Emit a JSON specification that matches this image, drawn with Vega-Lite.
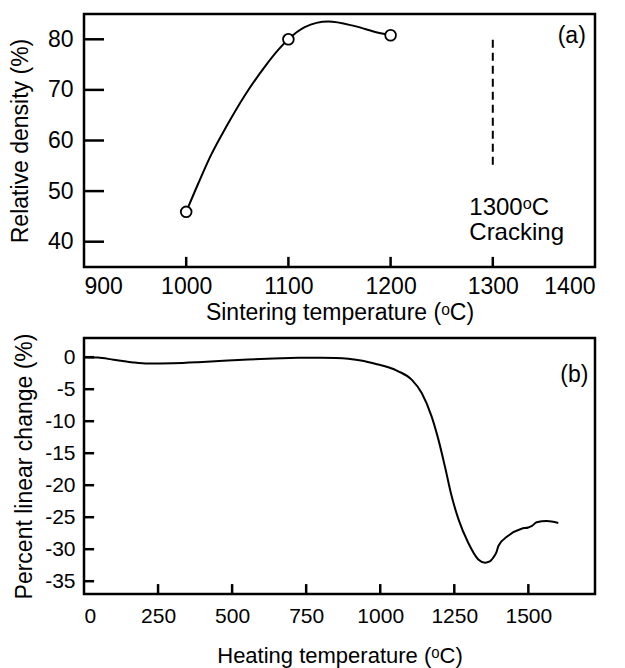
{
  "$schema": "https://vega.github.io/schema/vega-lite/v6.json",
  "padding": {"top": 12, "left": 8, "right": 0, "bottom": 0},
  "background": "white",
  "config": {
    "view": {"stroke": "black", "strokeWidth": 2.5},
    "font": "Liberation Sans",
    "axis": {
      "grid": false,
      "domain": false,
      "ticks": false,
      "labelOverlap": false,
      "labelExpr": "'' + datum.value",
      "labelFont": "Liberation Sans",
      "labelColor": "black",
      "titleFont": "Liberation Sans",
      "titleFontSize": 23,
      "titleFontWeight": "normal",
      "titleColor": "black"
    }
  },
  "spacing": 5,
  "vconcat": [
    {
      "width": 511,
      "height": 253,
      "layer": [
        {
          "data": {"values": [
            {"t": 1000, "d": 45.9}, {"t": 1012, "d": 51.6}, {"t": 1024, "d": 57.0},
            {"t": 1040, "d": 63.0}, {"t": 1057, "d": 68.8}, {"t": 1077, "d": 74.6},
            {"t": 1090, "d": 77.9}, {"t": 1100, "d": 80.0}, {"t": 1116, "d": 82.4},
            {"t": 1139, "d": 83.5}, {"t": 1165, "d": 82.6}, {"t": 1188, "d": 81.3},
            {"t": 1200, "d": 80.8}
          ]},
          "mark": {"type": "line", "color": "black", "strokeWidth": 2, "interpolate": "monotone"},
          "encoding": {
            "x": {"field": "t", "type": "quantitative",
                  "scale": {"domain": [900, 1400], "nice": false, "zero": false},
                  "axis": {"values": [900, 1000, 1100, 1200, 1300, 1400], "tickCount": 10, "labelFontSize": 23, "labelPadding": 8, "titlePadding": 3},
                  "title": "Sintering temperature (ᵒC)"},
            "y": {"field": "d", "type": "quantitative",
                  "scale": {"domain": [35, 85], "nice": false, "zero": false},
                  "axis": {"values": [40, 50, 60, 70, 80], "tickCount": 10, "labelFontSize": 23, "labelPadding": 11, "titlePadding": 15},
                  "title": "Relative density (%)"}
          }
        },
        {
          "data": {"values": [
            {"t": 1000, "d1": 35, "d2": 37}, {"t": 1100, "d1": 35, "d2": 37},
            {"t": 1200, "d1": 35, "d2": 37}, {"t": 1300, "d1": 35, "d2": 37}
          ]},
          "mark": {"type": "rule", "color": "black", "strokeWidth": 2.5},
          "encoding": {
            "x": {"field": "t", "type": "quantitative"},
            "y": {"field": "d1", "type": "quantitative"},
            "y2": {"field": "d2"}
          }
        },
        {
          "data": {"values": [
            {"t1": 900, "t2": 919.6, "d": 40}, {"t1": 900, "t2": 919.6, "d": 50},
            {"t1": 900, "t2": 919.6, "d": 60}, {"t1": 900, "t2": 919.6, "d": 70},
            {"t1": 900, "t2": 919.6, "d": 80}
          ]},
          "mark": {"type": "rule", "color": "black", "strokeWidth": 2.5},
          "encoding": {
            "y": {"field": "d", "type": "quantitative"},
            "x": {"field": "t1", "type": "quantitative"},
            "x2": {"field": "t2"}
          }
        },
        {
          "data": {"values": [
            {"t": 1000, "d": 45.9}, {"t": 1100, "d": 80.0}, {"t": 1200, "d": 80.8}
          ]},
          "mark": {"type": "point", "shape": "circle", "filled": true, "fill": "white", "stroke": "black", "strokeWidth": 1.8, "size": 115, "opacity": 1},
          "encoding": {
            "x": {"field": "t", "type": "quantitative"},
            "y": {"field": "d", "type": "quantitative"}
          }
        },
        {
          "data": {"values": [{"t": 1300, "d1": 55.2, "d2": 80.0}]},
          "mark": {"type": "rule", "color": "black", "strokeWidth": 2, "strokeDash": [8, 5]},
          "encoding": {
            "x": {"field": "t", "type": "quantitative"},
            "y": {"field": "d1", "type": "quantitative"},
            "y2": {"field": "d2"}
          }
        },
        {
          "data": {"values": [
            {"t": 1277, "d": 46.6, "label": "1300ᵒC"},
            {"t": 1277, "d": 41.7, "label": "Cracking"}
          ]},
          "mark": {"type": "text", "align": "left", "baseline": "middle", "fontSize": 24, "color": "black", "font": "Liberation Sans"},
          "encoding": {
            "x": {"field": "t", "type": "quantitative"},
            "y": {"field": "d", "type": "quantitative"},
            "text": {"field": "label"}
          }
        },
        {
          "data": {"values": [{"t": 1391, "d": 80.6, "label": "(a)"}]},
          "mark": {"type": "text", "align": "right", "baseline": "middle", "fontSize": 23, "color": "black", "font": "Liberation Sans"},
          "encoding": {
            "x": {"field": "t", "type": "quantitative"},
            "y": {"field": "d", "type": "quantitative"},
            "text": {"field": "label"}
          }
        }
      ]
    },
    {
      "width": 511,
      "height": 256,
      "layer": [
        {
          "data": {"values": [
            {"t": 0, "c": 0}, {"t": 47, "c": -0.05}, {"t": 100, "c": -0.4}, {"t": 160, "c": -0.78},
            {"t": 216, "c": -1.0}, {"t": 300, "c": -0.95}, {"t": 385, "c": -0.78}, {"t": 470, "c": -0.55},
            {"t": 554, "c": -0.36}, {"t": 640, "c": -0.2}, {"t": 723, "c": -0.1}, {"t": 800, "c": -0.07},
            {"t": 850, "c": -0.12}, {"t": 892, "c": -0.25}, {"t": 940, "c": -0.55}, {"t": 993, "c": -1.14},
            {"t": 1030, "c": -1.6}, {"t": 1061, "c": -2.2}, {"t": 1106, "c": -3.5}, {"t": 1140, "c": -5.6},
            {"t": 1173, "c": -9.2}, {"t": 1196, "c": -12.8}, {"t": 1218, "c": -17.0}, {"t": 1241, "c": -21.7},
            {"t": 1264, "c": -25.3}, {"t": 1297, "c": -29.0}, {"t": 1331, "c": -31.6}, {"t": 1354, "c": -32.1},
            {"t": 1370, "c": -31.9}, {"t": 1382, "c": -31.3}, {"t": 1392, "c": -30.5}, {"t": 1399, "c": -29.5},
            {"t": 1432, "c": -27.9}, {"t": 1477, "c": -26.8}, {"t": 1500, "c": -26.6}, {"t": 1511, "c": -26.4},
            {"t": 1528, "c": -25.8}, {"t": 1562, "c": -25.6}, {"t": 1601, "c": -25.9}
          ]},
          "mark": {"type": "line", "color": "black", "strokeWidth": 2, "interpolate": "monotone"},
          "encoding": {
            "x": {"field": "t", "type": "quantitative",
                  "scale": {"domain": [0, 1725], "nice": false, "zero": false},
                  "axis": {"values": [0, 250, 500, 750, 1000, 1250, 1500], "tickCount": 10, "labelPadding": 11, "labelFontSize": 21, "titlePadding": 19, "titleFontSize": 22},
                  "title": "Heating temperature (ᵒC)"},
            "y": {"field": "c", "type": "quantitative",
                  "scale": {"domain": [-37, 3], "nice": false, "zero": false},
                  "axis": {"values": [-35, -30, -25, -20, -15, -10, -5, 0], "tickCount": 10, "labelPadding": 9, "labelFontSize": 21, "titlePadding": 8},
                  "title": "Percent linear change (%)"}
          }
        },
        {
          "data": {"values": [
            {"t": 250, "c1": -37, "c2": -35.45}, {"t": 500, "c1": -37, "c2": -35.45},
            {"t": 750, "c1": -37, "c2": -35.45}, {"t": 1000, "c1": -37, "c2": -35.45},
            {"t": 1250, "c1": -37, "c2": -35.45}, {"t": 1500, "c1": -37, "c2": -35.45}
          ]},
          "mark": {"type": "rule", "color": "black", "strokeWidth": 2.5},
          "encoding": {
            "x": {"field": "t", "type": "quantitative"},
            "y": {"field": "c1", "type": "quantitative"},
            "y2": {"field": "c2"}
          }
        },
        {
          "data": {"values": [
            {"t1": 0, "t2": 34, "c": -35}, {"t1": 0, "t2": 34, "c": -30},
            {"t1": 0, "t2": 34, "c": -25}, {"t1": 0, "t2": 34, "c": -20},
            {"t1": 0, "t2": 34, "c": -15}, {"t1": 0, "t2": 34, "c": -10},
            {"t1": 0, "t2": 34, "c": -5}, {"t1": 0, "t2": 34, "c": 0}
          ]},
          "mark": {"type": "rule", "color": "black", "strokeWidth": 2.5},
          "encoding": {
            "y": {"field": "c", "type": "quantitative"},
            "x": {"field": "t1", "type": "quantitative"},
            "x2": {"field": "t2"}
          }
        },
        {
          "data": {"values": [{"t": 1703, "c": -2.85, "label": "(b)"}]},
          "mark": {"type": "text", "align": "right", "baseline": "middle", "fontSize": 23, "color": "black", "font": "Liberation Sans"},
          "encoding": {
            "x": {"field": "t", "type": "quantitative"},
            "y": {"field": "c", "type": "quantitative"},
            "text": {"field": "label"}
          }
        }
      ]
    }
  ]
}
